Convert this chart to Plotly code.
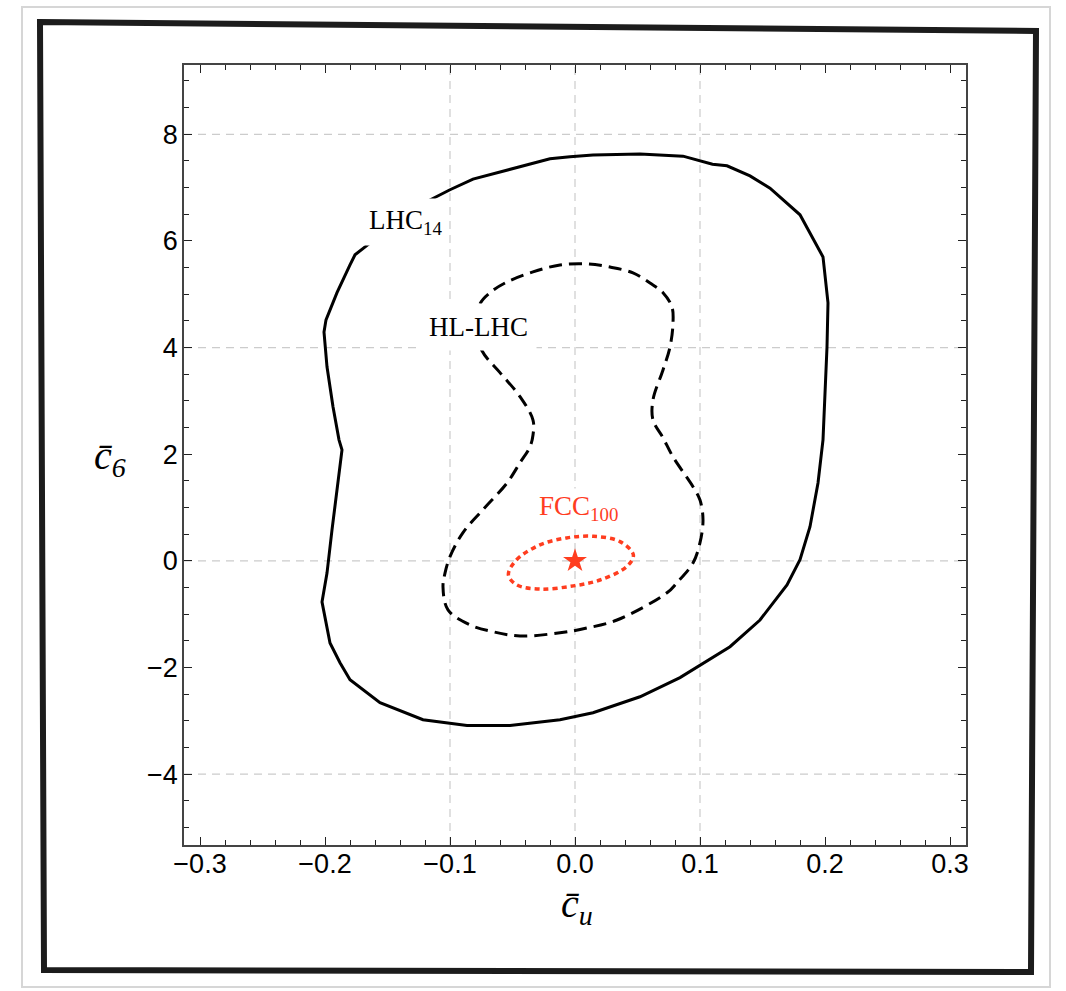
import plotly.graph_objects as go

# LHC14 contour (solid), clockwise from the upper-left
lhc14_cu = [-0.1656, -0.144, -0.1176, -0.100, -0.0816, -0.060, -0.0336, -0.020, -0.004, 0.0144,
            0.052, 0.0864, 0.110, 0.1216, 0.140, 0.156, 0.180, 0.1984, 0.2024,
            0.2016, 0.1984, 0.1944, 0.188, 0.180, 0.1696, 0.148, 0.124, 0.100, 0.084,
            0.052, 0.0144, -0.012, -0.052, -0.0864, -0.1216, -0.156, -0.180, -0.188, -0.196,
            -0.2024, -0.1984, -0.1944, -0.1904, -0.1864, -0.1888, -0.1936, -0.1984, -0.2008, -0.1992,
            -0.1904, -0.180, -0.176, -0.1656]
lhc14_c6 = [5.93, 6.36, 6.75, 6.96, 7.16, 7.29, 7.46, 7.54, 7.58, 7.61,
            7.63, 7.59, 7.44, 7.41, 7.22, 6.99, 6.49, 5.70, 4.84,
            4.01, 2.27, 1.46, 0.64, 0.02, -0.45, -1.11, -1.61, -1.95, -2.19,
            -2.55, -2.85, -2.98, -3.09, -3.09, -2.98, -2.66, -2.23, -1.91, -1.54,
            -0.77, -0.23, 0.58, 1.33, 2.08, 2.27, 2.89, 3.64, 4.29, 4.52,
            5.03, 5.55, 5.74, 5.93]

# HL-LHC contour (dashed)
hllhc_cu = [-0.079, -0.076, -0.068, -0.0544, -0.0336, -0.012, 0.0096, 0.028, 0.0464, 0.060,
            0.0704, 0.0776, 0.0784, 0.076, 0.0704, 0.0624, 0.0624, 0.0704, 0.0784, 0.0944,
            0.100, 0.1024, 0.100, 0.0944, 0.0816, 0.0736, 0.0336, 0.0096, -0.012, -0.044,
            -0.0656, -0.084, -0.1016, -0.1056, -0.104, -0.100, -0.0896, -0.0736, -0.0544, -0.044,
            -0.036, -0.0336, -0.0336, -0.044, -0.060, -0.0744, -0.079]
hllhc_c6 = [4.37, 4.82, 5.03, 5.23, 5.42, 5.55, 5.57, 5.51, 5.40, 5.21,
            5.03, 4.76, 4.46, 4.01, 3.58, 3.02, 2.64, 2.31, 1.95, 1.39,
            1.14, 0.77, 0.34, -0.04, -0.41, -0.60, -1.11, -1.26, -1.35, -1.41,
            -1.33, -1.20, -0.92, -0.49, -0.23, 0.08, 0.53, 0.96, 1.46, 1.84,
            2.14, 2.36, 2.64, 3.08, 3.53, 3.94, 4.37]

# FCC100 contour (dotted)
fcc_cu = [-0.0533, -0.0467, -0.028, -0.0067, 0.0147, 0.036, 0.0467, 0.0413, 0.020, -0.0013,
          -0.028, -0.0467, -0.0533]
fcc_c6 = [-0.26, 0.02, 0.30, 0.43, 0.46, 0.36, 0.11, -0.11, -0.36, -0.47,
          -0.53, -0.45, -0.26]

# best-fit point
sm_cu = [0.0]
sm_c6 = [0.0]

x_ticks = [-0.3, -0.2, -0.1, 0.0, 0.1, 0.2, 0.3]
x_ticktext = ["\u22120.3", "\u22120.2", "\u22120.1", "0.0", "0.1", "0.2", "0.3"]
y_ticks = [-4, -2, 0, 2, 4, 6, 8]
y_ticktext = ["\u22124", "\u22122", "0", "2", "4", "6", "8"]

# dashed guide lines
grid_x = [-0.1, 0.0, 0.1]
grid_y = [-4, 0, 4, 8]

RED = "#ff3d1f"
SERIF = "Liberation Serif, Times New Roman, serif"
SANS = "Liberation Sans, Arial, Helvetica, sans-serif"

W, H = 1066, 991
L, R, T, B = 184, 100, 65, 146


def px(xp):
    return (xp - L) / (W - L - R)


def py(yp):
    return (H - B - yp) / (H - T - B)


fig = go.Figure()
fig.add_trace(go.Scatter(x=lhc14_cu, y=lhc14_c6, mode="lines",
                         line=dict(color="black", width=3), hoverinfo="skip"))
fig.add_trace(go.Scatter(x=hllhc_cu, y=hllhc_c6, mode="lines",
                         line=dict(color="black", width=3, dash="13px,7px"),
                         line_shape="spline", hoverinfo="skip"))
fig.add_trace(go.Scatter(x=fcc_cu, y=fcc_c6, mode="lines",
                         line=dict(color=RED, width=3.5, dash="5px,4px"),
                         line_shape="spline", hoverinfo="skip"))
fig.add_trace(go.Scatter(x=sm_cu, y=sm_c6, mode="markers",
                         marker=dict(symbol="star", size=18, color=RED, line=dict(width=0)),
                         hoverinfo="skip"))

axis_common = dict(
    showline=True, linecolor="#444", linewidth=1.5, mirror="ticks",
    ticks="inside", ticklen=8, tickwidth=1.2, tickcolor="#222",
    showgrid=False, zeroline=False,
    tickfont=dict(family=SANS, size=27, color="black"),
)

fig.update_xaxes(range=[-0.3128, 0.3128], tickvals=x_ticks, ticktext=x_ticktext,
                 minor=dict(dtick=0.02, tick0=0, ticks="inside", ticklen=5,
                            tickcolor="#222", showgrid=False),
                 ticklabelstandoff=-6, **axis_common)
fig.update_yaxes(range=[-5.33, 9.3], tickvals=y_ticks, ticktext=y_ticktext,
                 minor=dict(dtick=0.5, tick0=0, ticks="inside", ticklen=5,
                            tickcolor="#222", showgrid=False),
                 ticklabelstandoff=-1, **axis_common)

grid_line = dict(color="#cccccc", width=1.2, dash="8px,6px")
shapes = []
for gx in grid_x:
    shapes.append(dict(type="line", xref="x", yref="paper", x0=gx, x1=gx, y0=0, y1=1,
                       line=grid_line, layer="below"))
for gy in grid_y:
    shapes.append(dict(type="line", xref="paper", yref="y", x0=0, x1=1, y0=gy, y1=gy,
                       line=grid_line, layer="below"))

# page frame: light outer border and thick dark frame
shapes.append(dict(type="rect", xref="paper", yref="paper", x0=px(22), x1=px(1050),
                   y0=py(987), y1=py(7), line=dict(color="#d6d6d6", width=2), layer="below"))
shapes.append(dict(type="path", xref="paper", yref="paper",
                   path=f"M {px(40)},{py(22)} L {px(1036)},{py(31)} L {px(1031)},{py(972)} "
                        f"L {px(44)},{py(970)} Z",
                   line=dict(color="#1c1c1c", width=6), layer="below"))

annotations = [
    dict(x=-0.136, y=6.36, text="LHC<sub>14</sub>", showarrow=False,
         font=dict(family=SERIF, size=27, color="black"), bgcolor="white", borderpad=6),
    dict(x=-0.0776, y=4.39, text="HL-LHC", showarrow=False,
         font=dict(family=SERIF, size=27, color="black"), bgcolor="white", borderpad=8),
    dict(x=0.0024, y=0.99, text="FCC<sub>100</sub>", showarrow=False,
         font=dict(family=SERIF, size=27, color=RED), bgcolor="white", borderpad=2),
    dict(xref="paper", yref="paper", x=px(577), y=py(906), xanchor="center", yanchor="middle",
         text="<i>c\u0304<sub>u</sub></i>",
         showarrow=False, font=dict(family=SERIF, size=40, color="black")),
    dict(xref="paper", yref="paper", x=px(110), y=py(458), xanchor="center", yanchor="middle",
         text="<i>c\u0304<sub>6</sub></i>",
         showarrow=False, font=dict(family=SERIF, size=40, color="black")),
]

fig.update_layout(
    width=W, height=H, autosize=False,
    margin=dict(l=L, r=R, t=T, b=B),
    paper_bgcolor="white", plot_bgcolor="white",
    showlegend=False,
    annotations=annotations, shapes=shapes,
)

fig.write_html("out.html")
